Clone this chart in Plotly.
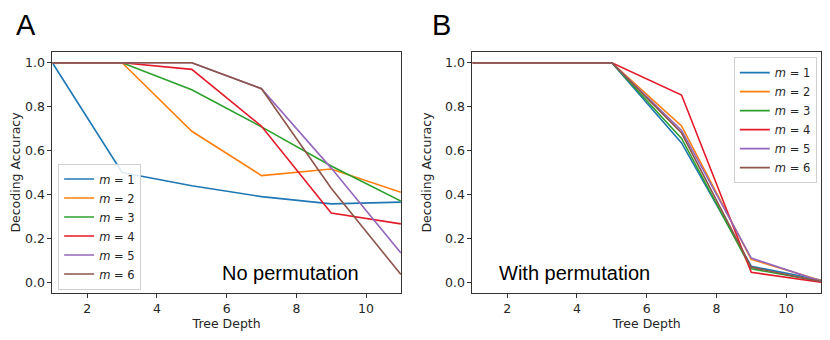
import plotly.graph_objects as go
from plotly.subplots import make_subplots

# tree depths sampled
depth = [1, 3, 5, 7, 9, 11]
labels = ["<i>m</i> = 1", "<i>m</i> = 2", "<i>m</i> = 3",
          "<i>m</i> = 4", "<i>m</i> = 5", "<i>m</i> = 6"]
colors = ["#1f77b4", "#ff7f0e", "#2ca02c", "#e31a2a", "#9467bd", "#8c564b"]

# panel A: no permutation
nop_m1 = [1.0, 0.50, 0.44, 0.39, 0.357, 0.365]
nop_m2 = [1.0, 1.0, 0.688, 0.486, 0.516, 0.41]
nop_m3 = [1.0, 1.0, 0.877, 0.708, 0.53, 0.37]
nop_m4 = [1.0, 1.0, 0.97, 0.711, 0.315, 0.266]
nop_m5 = [1.0, 1.0, 1.0, 0.882, 0.52, 0.133]
nop_m6 = [1.0, 1.0, 1.0, 0.882, 0.428, 0.035]

# panel B: with permutation
perm_m1 = [1.0, 1.0, 1.0, 0.635, 0.073, 0.01]
perm_m2 = [1.0, 1.0, 1.0, 0.712, 0.104, 0.008]
perm_m3 = [1.0, 1.0, 1.0, 0.655, 0.061, 0.003]
perm_m4 = [1.0, 1.0, 1.0, 0.853, 0.045, 0.0]
perm_m5 = [1.0, 1.0, 1.0, 0.692, 0.11, 0.005]
perm_m6 = [1.0, 1.0, 1.0, 0.68, 0.068, 0.003]

panel_a = [nop_m1, nop_m2, nop_m3, nop_m4, nop_m5, nop_m6]
panel_b = [perm_m1, perm_m2, perm_m3, perm_m4, perm_m5, perm_m6]

x_ticks = [2, 4, 6, 8, 10]
y_ticks = [0.0, 0.2, 0.4, 0.6, 0.8, 1.0]

FONT = "DejaVu Sans"
TXT = "#262626"

fig = make_subplots(rows=1, cols=2)

for col, (series, leg) in enumerate([(panel_a, "legend"), (panel_b, "legend2")], start=1):
    for vals, name, c in zip(series, labels, colors):
        fig.add_trace(go.Scatter(
            x=depth, y=vals, mode="lines", name=name, legend=leg,
            line=dict(color=c, width=1.6),
        ), row=1, col=col)

axis_common = dict(
    showline=True, linecolor="#333333", linewidth=1, mirror=True,
    ticks="outside", ticklen=4, tickwidth=1, tickcolor="#333333",
    showgrid=False, zeroline=False, automargin=False,
    tickfont=dict(family=FONT, size=12.5, color=TXT),
)
fig.update_xaxes(range=[1, 11], tickvals=x_ticks, **axis_common,
                 title=dict(text="Tree Depth", font=dict(family=FONT, size=12.5, color=TXT), standoff=4))
fig.update_yaxes(range=[-0.05, 1.05], tickvals=y_ticks, tickformat=".1f", **axis_common,
                 title=dict(text="Decoding Accuracy", font=dict(family=FONT, size=12.5, color=TXT), standoff=10))

# page body adds an 8px offset, so the figure is 822x332 and placed at (8, 8)
fig.update_layout(
    xaxis=dict(domain=[0.054, 0.478]),
    xaxis2=dict(domain=[0.565, 0.989]),
    yaxis=dict(domain=[0.141, 0.868]),
    yaxis2=dict(domain=[0.141, 0.868]),
)

legend_common = dict(
    bgcolor="rgba(255,255,255,0.85)", bordercolor="#d0d0d0", borderwidth=1,
    font=dict(family=FONT, size=11.5, color=TXT), tracegroupgap=0,
)
fig.update_layout(
    legend=dict(x=0.061, y=0.152, xanchor="left", yanchor="bottom", **legend_common),
    legend2=dict(x=0.883, y=0.852, xanchor="left", yanchor="top", **legend_common),
)

big = dict(family="Liberation Sans, Arial", size=29, color="black")
fig.add_annotation(text="A", x=0.007, y=0.95, xref="paper", yref="paper",
                   xanchor="left", yanchor="middle", showarrow=False, font=big)
fig.add_annotation(text="B", x=0.513, y=0.95, xref="paper", yref="paper",
                   xanchor="left", yanchor="middle", showarrow=False, font=big)

note = dict(family="Liberation Sans, Arial", size=20, color="black")
fig.add_annotation(text="No permutation", x=9.85, y=0.0, xref="x", yref="y",
                   xanchor="right", yanchor="bottom", showarrow=False, font=note,
                   yshift=-4)
fig.add_annotation(text="With permutation", x=1.7, y=0.0, xref="x2", yref="y2",
                   xanchor="left", yanchor="bottom", showarrow=False, font=note,
                   yshift=-4)

fig.update_layout(
    width=822, height=332,
    margin=dict(l=0, r=0, t=0, b=0),
    paper_bgcolor="white", plot_bgcolor="white",
    showlegend=True,
)

fig.write_html("out.html")
